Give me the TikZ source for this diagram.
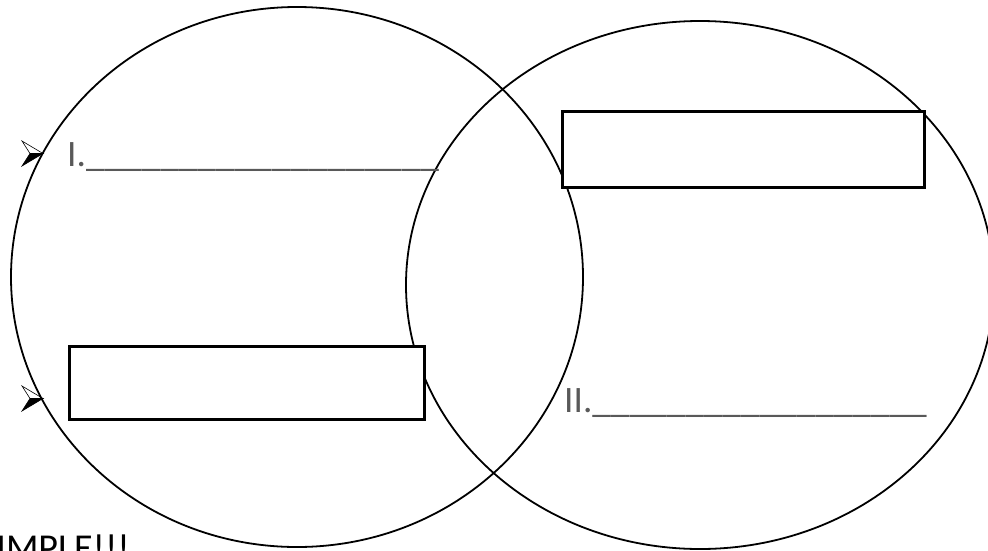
\documentclass[tikz,border=0pt]{standalone}
\usepackage{fontspec}
\setmainfont{Carlito}
\usetikzlibrary{positioning,shapes.geometric}
\definecolor{labelgray}{RGB}{89,89,89}

\tikzset{
    arrowbullet/.pic={
        \filldraw[fill=white, draw=black, line width=0.6pt, line join=miter] (0,0) -- (21,12.5) -- (8,12.5) -- cycle;
        \filldraw[fill=black, draw=black, line width=0.6pt, line join=miter] (8,12.5) -- (21,12.5) -- (0,25) -- cycle;
    }
}

\begin{document}
\begin{tikzpicture}[x=1pt, y=-1pt,
    setring/.style={draw, ellipse, line width=1.8pt, inner sep=0pt},
    blankbox/.style={draw, fill=white, line width=2.6pt, inner sep=0pt, anchor=north west},
    blankline/.style={font=\fontsize{37.3}{37.3}\selectfont, text=labelgray, inner sep=0pt, anchor=base west}]

    \useasboundingbox (0,0) rectangle (988,550);
    \clip (0,0) rectangle (988,550);

    % punti elenco
    \pic (b1) at (22,141) {arrowbullet};
    \pic (b2) at (22,386) {arrowbullet};

    % i due insiemi
    \node[setring, minimum width=572pt, minimum height=540pt] (setA) at (297,277) {};
    \node[setring, minimum width=588pt, minimum height=528pt] (setB) at (700,285) {};

    % caselle vuote
    \node[blankbox, minimum width=355pt, minimum height=73pt] (boxA) at (68,345) {};
    \node[blankbox, minimum width=362pt, minimum height=76pt] (boxB) at (561,110) {};

    \node[blankline] (lineA) at (67,166) {I.\_\_\_\_\_\_\_\_\_\_\_\_\_\_\_\_\_\_\_};
    \node[blankline] (lineB) at (564,412) {II.\_\_\_\_\_\_\_\_\_\_\_\_\_\_\_\_\_\_};

    \node[font=\fontsize{38}{38}\selectfont, inner sep=0pt, anchor=base east] (tag) at (130,560) {SIMPLE!!!};

\end{tikzpicture}
\end{document}
